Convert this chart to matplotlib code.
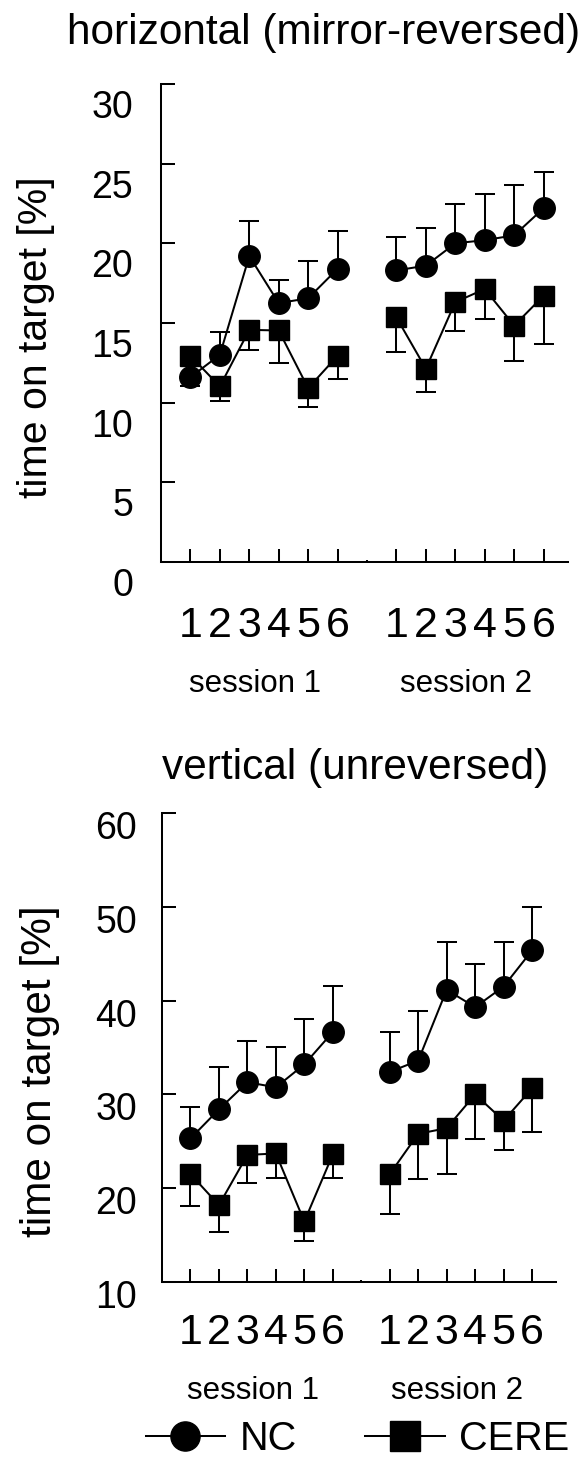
import numpy as np
import matplotlib
matplotlib.use("Agg")
import matplotlib.pyplot as plt
import matplotlib.transforms as mtransforms
from matplotlib.lines import Line2D

plt.rcParams['font.family'] = ['Liberation Sans', 'DejaVu Sans']

# ---------------- data ----------------
trials = [1, 2, 3, 4, 5, 6]
session1_x = [1, 2, 3, 4, 5, 6]
session2_x = [8, 9, 10, 11, 12, 13]
tick_labels = ['1', '2', '3', '4', '5', '6', '1', '2', '3', '4', '5', '6']
session_names = ['session 1', 'session 2']

# horizontal (mirror-reversed)
nc_h_s1 = [11.6, 13.0, 19.2, 16.25, 16.55, 18.4]
nc_h_s1_err = [0.9, 1.45, 2.18, 1.44, 2.34, 2.36]
nc_h_s2 = [18.3, 18.6, 20.0, 20.2, 20.5, 22.2]
nc_h_s2_err = [2.07, 2.38, 2.49, 2.87, 3.18, 2.26]
cere_h_s1 = [12.94, 11.02, 14.57, 14.53, 10.91, 12.94]
cere_h_s1_err = [1.92, 0.94, 1.25, 2.01, 1.21, 1.44]
cere_h_s2 = [15.35, 12.13, 16.31, 17.13, 14.84, 16.71]
cere_h_s2_err = [2.14, 1.43, 1.80, 1.87, 2.23, 3.01]

# vertical (unreversed)
nc_v_s1 = [25.3, 28.4, 31.3, 30.75, 33.2, 36.65]
nc_v_s1_err = [3.36, 4.55, 4.37, 4.33, 4.87, 4.94]
nc_v_s2 = [32.4, 33.6, 41.15, 39.3, 41.5, 45.35]
nc_v_s2_err = [4.25, 5.29, 5.12, 4.65, 4.8, 4.63]
cere_v_s1 = [21.5, 18.2, 23.55, 23.7, 16.45, 23.6]
cere_v_s1_err = [3.4, 2.85, 3.0, 2.6, 2.05, 2.5]
cere_v_s2 = [21.5, 25.8, 26.4, 30.0, 27.2, 30.65]
cere_v_s2_err = [4.3, 4.8, 4.9, 4.8, 3.15, 4.7]

# ---------------- figure ----------------
W, H = 582, 1463
fig = plt.figure(figsize=(W / 100, H / 100), dpi=100)

LW = 1.45


def px_axes(l, t, r, b):
    return fig.add_axes([l / W, 1 - b / H, (r - l) / W, (b - t) / H])


def draw_panel(ax, nc1, nc1e, nc2, nc2e, ce1, ce1e, ce2, ce2e):
    for xs, ys, es in [(session1_x, ce1, ce1e), (session2_x, ce2, ce2e)]:
        ax.errorbar(xs, ys, yerr=[es, np.zeros(len(es))], fmt='none',
                    ecolor='black', elinewidth=LW, capsize=7.2, capthick=LW,
                    zorder=1)
    for xs, ys, es in [(session1_x, nc1, nc1e), (session2_x, nc2, nc2e)]:
        ax.errorbar(xs, ys, yerr=[np.zeros(len(es)), es], fmt='none',
                    ecolor='black', elinewidth=LW, capsize=7.2, capthick=LW,
                    zorder=1)
    for xs, ys in [(session1_x, ce1), (session2_x, ce2)]:
        ax.plot(xs, ys, '-', color='black', lw=LW, marker='s', ms=15,
                mfc='black', mec='black', zorder=3)
    for xs, ys in [(session1_x, nc1), (session2_x, nc2)]:
        ax.plot(xs, ys, '-', color='black', lw=LW, marker='o', ms=15.5,
                mfc='black', mec='black', zorder=3)


def style_panel(ax, xmax, ylim, yticks, xpad, ypad, ydown, session_y):
    ax.set_xlim(0, xmax)
    ax.set_ylim(*ylim)
    for s in ['top', 'right']:
        ax.spines[s].set_visible(False)
    for s in ['left', 'bottom']:
        ax.spines[s].set_linewidth(LW)
    ax.set_xticks(session1_x + session2_x)
    ax.set_xticklabels(tick_labels)
    ax.set_xticks([7], minor=True)
    ax.set_yticks(yticks)
    ax.tick_params(axis='x', which='major', direction='in', length=9.5,
                   width=LW, labelsize=31, pad=xpad)
    ax.tick_params(axis='x', which='minor', direction='in', length=1.2,
                   width=LW)
    ax.tick_params(axis='y', direction='in', length=10, width=LW,
                   labelsize=27, pad=ypad)
    off = mtransforms.ScaledTranslation(0, -ydown / 100, fig.dpi_scale_trans)
    for lab in ax.get_yticklabels():
        lab.set_transform(lab.get_transform() + off)
    trans = mtransforms.blended_transform_factory(ax.transData, ax.transAxes)
    for xc, name in zip([3.2, 10.35], session_names):
        ax.text(xc, session_y, name, transform=trans, ha='center',
                va='center', fontsize=22.5)


# top panel
ax1 = px_axes(161, 84, 568, 562)
draw_panel(ax1, nc_h_s1, nc_h_s1_err, nc_h_s2, nc_h_s2_err,
           cere_h_s1, cere_h_s1_err, cere_h_s2, cere_h_s2_err)
style_panel(ax1, 13.83, (0, 30), [0, 5, 10, 15, 20, 25, 30],
            xpad=32, ypad=20, ydown=20, session_y=(562 - 684) / 478)

# bottom panel
ax2 = px_axes(162, 813, 556, 1282)
draw_panel(ax2, nc_v_s1, nc_v_s1_err, nc_v_s2, nc_v_s2_err,
           cere_v_s1, cere_v_s1_err, cere_v_s2, cere_v_s2_err)
style_panel(ax2, 13.84, (10, 60), [10, 20, 30, 40, 50, 60],
            xpad=22, ypad=18, ydown=12, session_y=(1282 - 1391) / 469)

# titles and y labels
fig.text(324 / W, 1 - 33 / H, 'horizontal (mirror-reversed)', ha='center',
         va='center', fontsize=30.5)
fig.text(355 / W, 1 - 768 / H, 'vertical (unreversed)', ha='center',
         va='center', fontsize=30.5)
fig.text(36 / W, 1 - 337 / H, 'time on target [%]', rotation=90,
         ha='center', va='center', fontsize=29.5)
fig.text(40 / W, 1 - 1071 / H, 'time on target [%]', rotation=90,
         ha='center', va='center', fontsize=30.5)

# legend
handles = [Line2D([], [], color='black', lw=LW, marker='o', ms=15),
           Line2D([], [], color='black', lw=LW, marker='s', ms=15)]
fig.legend(handles, ['NC', 'CERE'], loc='center', ncol=2,
           bbox_to_anchor=(357.5 / W, 1 - 1439 / H), frameon=False,
           fontsize=28.5, handlelength=2.02, handletextpad=0.35,
           columnspacing=1.74, markerscale=1.4, borderpad=0,
           borderaxespad=0)

fig.savefig('out.png', dpi=100)
